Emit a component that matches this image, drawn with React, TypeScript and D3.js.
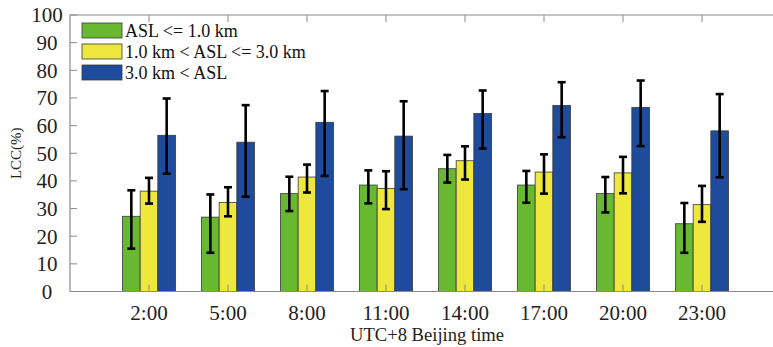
import React from 'react';
import * as d3 from 'd3';

const categories = ['2:00', '5:00', '8:00', '11:00', '14:00', '17:00', '20:00', '23:00'];
const seriesNames = ['ASL <= 1.0 km', '1.0 km < ASL <= 3.0 km', '3.0 km < ASL'];
const seriesColors = ['#69b832', '#efe83c', '#1e4b9c'];

const lowVals = [27.2, 26.9, 35.4, 38.5, 44.4, 38.5, 35.4, 24.5];
const lowUpper = [36.6, 35.1, 41.5, 43.8, 49.4, 43.6, 41.4, 32.0];
const lowLower = [15.5, 14.0, 29.1, 31.9, 39.4, 32.1, 28.6, 14.0];

const midVals = [36.3, 32.2, 41.4, 37.3, 47.3, 43.2, 42.9, 31.4];
const midUpper = [41.1, 37.7, 45.9, 43.5, 52.5, 49.6, 48.7, 38.2];
const midLower = [31.8, 27.2, 35.8, 29.8, 40.5, 35.4, 35.5, 25.2];

const highVals = [56.5, 54.0, 61.2, 56.2, 64.4, 67.3, 66.6, 58.1];
const highUpper = [69.8, 67.4, 72.5, 68.8, 72.7, 75.7, 76.3, 71.4];
const highLower = [42.6, 34.3, 41.8, 37.0, 51.7, 55.8, 52.6, 41.3];

const yTicks = [0, 10, 20, 30, 40, 50, 60, 70, 80, 90, 100];

const W = 773;
const H = 347;
const FONT = '"Liberation Serif", "Times New Roman", serif';

export default function App() {
  const left = 70;
  const top = 15;
  const bottom = 291.5;
  const x = d3.scaleLinear().domain([0, 9]).range([left, 781]);
  const y = d3.scaleLinear().domain([0, 100]).range([bottom, top]);
  const groupW = 53;
  const sub = d3.scaleBand<number>().domain([0, 1, 2]).range([-groupW / 2, groupW / 2]).padding(0);

  const series = [
    { vals: lowVals, up: lowUpper, lo: lowLower },
    { vals: midVals, up: midUpper, lo: midLower },
    { vals: highVals, up: highUpper, lo: highLower },
  ];

  const axisColor = '#8a8a8a';

  return (
    <svg width={W} height={H} style={{ position: 'absolute', left: 0, top: 0, background: '#fff', fontFamily: FONT }}>
      <rect x={0} y={0} width={W} height={H} fill="#fff" />
      {series.map((s, si) =>
        categories.map((c, ci) => {
          const cx = x(ci + 1);
          const bx = cx + (sub(si) as number);
          const bw = sub.bandwidth();
          return (
            <rect
              key={`b-${si}-${ci}`}
              x={bx}
              y={y(s.vals[ci])}
              width={bw}
              height={y(0) - y(s.vals[ci])}
              fill={seriesColors[si]}
              stroke="#3a3a3a"
              strokeWidth={0.8}
            />
          );
        })
      )}
      {categories.map((c, ci) => (
        <g key={`ct-${ci}`} stroke={axisColor} strokeWidth={1}>
          <line x1={x(ci + 1)} x2={x(ci + 1)} y1={bottom} y2={bottom - 7} />
          <line x1={x(ci + 1)} x2={x(ci + 1)} y1={top} y2={top + 7} />
        </g>
      ))}
      {series.map((s, si) =>
        categories.map((c, ci) => {
          const cx = x(ci + 1) + (sub(si) as number) + sub.bandwidth() / 2;
          return (
            <g key={`e-${si}-${ci}`} stroke="#000" strokeWidth={2.6}>
              <line x1={cx} x2={cx} y1={y(s.up[ci])} y2={y(s.lo[ci])} />
              <line x1={cx - 4} x2={cx + 4} y1={y(s.up[ci])} y2={y(s.up[ci])} />
              <line x1={cx - 4} x2={cx + 4} y1={y(s.lo[ci])} y2={y(s.lo[ci])} />
            </g>
          );
        })
      )}
      <line x1={left} x2={W} y1={bottom} y2={bottom} stroke={axisColor} strokeWidth={1.2} />
      <line x1={left} x2={W} y1={top} y2={top} stroke={axisColor} strokeWidth={1.2} />
      <line x1={left} x2={left} y1={top} y2={bottom} stroke={axisColor} strokeWidth={1.2} />
      {yTicks.map((t) => (
        <g key={`yt-${t}`}>
          <line x1={left} x2={left + 7} y1={y(t)} y2={y(t)} stroke={axisColor} strokeWidth={1} />
          <text x={47} y={y(t)} dy="0.35em" textAnchor="middle" fontSize={21} fill="#222">
            {t}
          </text>
        </g>
      ))}
      {categories.map((c, ci) => (
        <text key={`xl-${ci}`} x={x(ci + 1)} y={320} textAnchor="middle" fontSize={21} fill="#222">
          {c}
        </text>
      ))}
      <text x={427} y={341} textAnchor="middle" fontSize={18.6} fill="#222">
        UTC+8 Beijing time
      </text>
      <text
        transform={`translate(21, ${(top + bottom) / 2}) rotate(-90)`}
        textAnchor="middle"
        fontSize={15}
        fill="#222"
      >
        LCC(%)
      </text>
      {seriesNames.map((n, i) => (
        <g key={`lg-${i}`} transform={`translate(82, ${23 + i * 21})`}>
          <rect x={0} y={0} width={40} height={15} fill={seriesColors[i]} stroke="#3a3a3a" strokeWidth={0.8} />
          <text x={43} y={7.5} dy="0.35em" fontSize={18} fill="#111">
            {n}
          </text>
        </g>
      ))}
    </svg>
  );
}
